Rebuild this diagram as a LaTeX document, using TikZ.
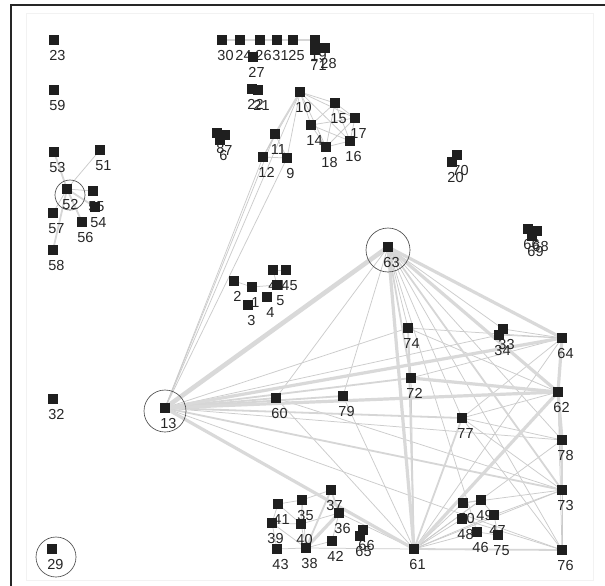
\documentclass[tikz,border=0pt]{standalone}
\usepackage{fontspec}
\setmainfont{Liberation Sans}
\usetikzlibrary{calc}
\pgfdeclarelayer{edges}
\pgfdeclarelayer{labels}
\pgfsetlayers{edges,labels,main}
\tikzset{
  sq/.style={draw=none,fill=black!88,minimum size=10.5pt,inner sep=0pt,outer sep=0pt},
  lab/.style={inner sep=0pt,font=\fontsize{14.5}{14.5}\selectfont,text=black!85},
  ring/.style={circle,draw=black!70,line width=0.65pt,inner sep=0pt,fill=none},
  ea/.style={draw=gray!40,line width=0.75pt},
  eb/.style={draw=gray!32,line width=1.8pt},
  ec/.style={draw=gray!30,line width=3.2pt},
  ed/.style={draw=gray!30,line width=4.6pt},
}
\begin{document}
\begin{tikzpicture}[x=1pt,y=-1pt]
\useasboundingbox (0,0) rectangle (605,586);

% vertices
\foreach \n/\x/\y in {
  23/54/40, 59/54/90, 53/54/152, 51/100/150, 52/67/189, 55/93/191, 54/95/207,
  56/82/222, 57/53/213, 58/53/250, 32/53/399, 13/165/408, 29/52/549,
  30/222/40, 24/240/40, 26/260/40, 31/277/40, 25/293/40, 19/315/40, 28/325/48,
  71/315/50, 27/253/57, 22/252/89, 21/258/90,
  10/300/92, 15/335/103, 17/355/118, 14/311/125, 18/326/147, 16/350/141,
  11/275/134, 12/263/157, 9/287/158, 8/217/133, 7/225/135, 6/220/140,
  70/457/155, 20/452/162, 66/528/229, 68/537/231, 69/532/236,
  63/388/247, 2/234/281, 1/252/287, 44/273/270, 45/286/270, 5/277/285, 4/267/297, 3/248/305,
  74/408/328, 33/503/329, 34/499/335, 64/562/338, 72/411/378, 79/343/396, 60/276/398,
  62/558/392, 77/462/418, 78/562/440, 73/562/490, 76/562/550, 61/414/549,
  50/463/503, 49/481/500, 47/494/515, 48/462/519, 46/477/532, 75/498/535,
  41/278/504, 35/302/500, 37/331/490, 36/339/513, 39/272/523, 40/301/524,
  43/277/549, 38/306/548, 42/332/541, 65/360/536, 66x/363/530}
{
  \node[sq] (n\n) at (\x,\y) {};
}

% labels under the squares
\begin{pgfonlayer}{labels}
\foreach \n/\t in {23/23,59/59,53/53,51/51,52/52,55/55,54/54,56/56,57/57,58/58,32/32,13/13,29/29,
  30/30,24/24,26/26,31/31,25/25,19/19,28/28,71/71,27/27,22/22,21/21,
  10/10,15/15,17/17,14/14,18/18,16/16,11/11,12/12,9/9,8/8,7/7,6/6,
  70/70,20/20,66/66,68/68,69/69,63/63,2/2,1/1,44/44,45/45,5/5,4/4,3/3,
  74/74,33/33,34/34,64/64,72/72,79/79,60/60,62/62,77/77,78/78,73/73,76/76,61/61,
  50/50,49/49,47/47,48/48,46/46,75/75,41/41,35/35,37/37,36/36,39/39,40/40,
  43/43,38/38,42/42,65/65,66x/66}
{
  \node[lab] (l\n) at ($(n\n)+(3.5,15.5)$) {\t};
}
\end{pgfonlayer}

% highlighted vertices
\node[ring,minimum size=42pt] (c13) at (165,411) {};
\node[ring,minimum size=44pt] (c63) at (388,250) {};
\node[ring,minimum size=30pt] (c52) at (70,195) {};
\node[ring,minimum size=40pt] (c29) at (56,557) {};

\begin{pgfonlayer}{edges}
% panel and frame
\fill[white] (0,0) rectangle (605,586);
\draw[gray!10,line width=1pt] (26,14) rectangle (593,580);
\draw[black!85,line width=1.6pt] (11,586) -- (11,5) -- (605,5);
% thin edges
\foreach \a/\b in {19/28, 10/12, 10/9, 11/12, 11/9, 12/9, 10/15, 10/14, 10/17, 10/16, 10/18,
  15/17, 15/14, 15/16, 15/18, 14/17, 14/16, 14/18, 17/16, 17/18, 18/16,
  13/12, 13/11, 13/10, 13/9, 51/52, 52/55, 57/52, 2/1, 1/5, 44/5, 44/45,
  13/34, 13/78, 13/76, 13/74, 63/74, 63/77, 63/78, 63/76, 63/60, 63/79, 63/33, 63/46,
  64/74, 64/72, 64/34, 64/33, 64/61, 64/77, 62/77, 62/73, 62/76, 62/74,
  73/76, 77/73, 77/76, 77/78, 72/74, 72/61, 79/61, 60/61, 60/73,
  61/73, 61/78, 61/50, 61/49, 61/47, 61/48, 61/46, 73/47, 73/50, 48/76, 50/49, 49/47, 47/75, 46/75,
  41/35, 35/37, 36/42, 42/38, 38/40, 40/39, 39/43, 43/38, 41/39, 35/40, 35/38, 40/36, 41/40, 39/38,
  38/61, 36/61, 65/66x}
{ \draw[ea] (n\a.center) -- (n\b.center); }
% medium edges
\foreach \a/\b in {30/24, 24/26, 26/31, 31/25, 25/19, 10/11, 53/52, 52/54, 52/56, 52/58,
  13/60, 13/79, 13/72, 13/77, 13/73, 63/72, 63/73, 78/73, 74/61, 77/61, 61/76, 37/36, 37/38}
{ \draw[eb] (n\a.center) -- (n\b.center); }
% heavy edges
\foreach \a/\b in {13/64, 13/62, 13/61, 63/64, 63/62, 63/61, 64/62, 62/72, 62/61, 62/78, 36/38}
{ \draw[ec] (n\a.center) -- (n\b.center); }
% heaviest edge
\draw[ed] (n13.center) -- (n63.center);
\end{pgfonlayer}
\end{tikzpicture}
\end{document}
